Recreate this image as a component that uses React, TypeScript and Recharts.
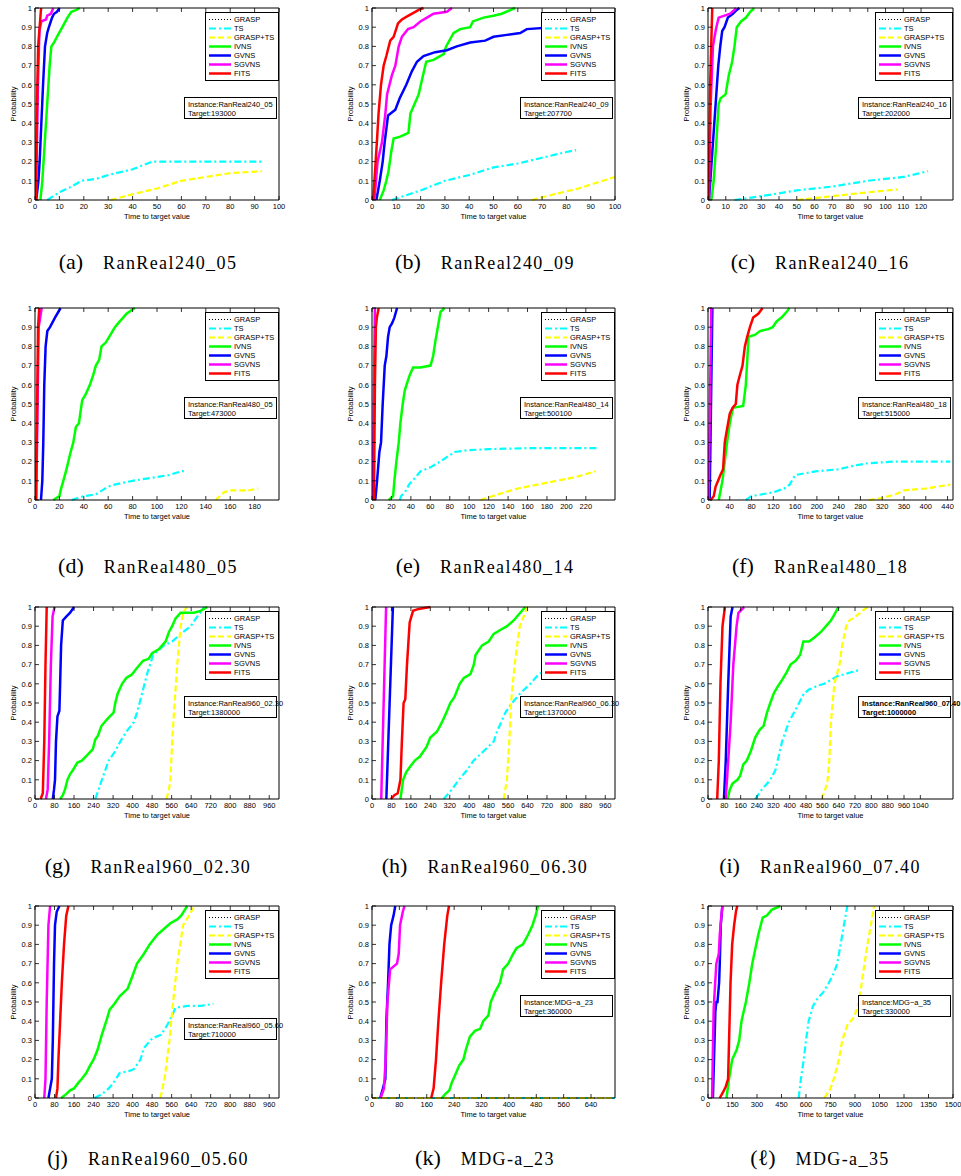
import React from "react";
import { LineChart, Line, XAxis, YAxis } from "recharts";

type Pt = [number, number];

// ---- tick labels ----
const P_TICKS = [0, 0.1, 0.2, 0.3, 0.4, 0.5, 0.6, 0.7, 0.8, 0.9, 1];
const X_100 = [0, 10, 20, 30, 40, 50, 60, 70, 80, 90, 100];
const X_120 = [0, 10, 20, 30, 40, 50, 60, 70, 80, 90, 100, 110, 120];
const X_180 = [0, 20, 40, 60, 80, 100, 120, 140, 160, 180];
const X_220 = [0, 20, 40, 60, 80, 100, 120, 140, 160, 180, 200, 220];
const X_440 = [0, 40, 80, 120, 160, 200, 240, 280, 320, 360, 400, 440];
const X_960 = [0, 80, 160, 240, 320, 400, 480, 560, 640, 720, 800, 880, 960];
const X_1040 = [0, 80, 160, 240, 320, 400, 480, 560, 640, 720, 800, 880, 960, 1040];
const X_640 = [0, 80, 160, 240, 320, 400, 480, 560, 640];
const X_1500 = [0, 150, 300, 450, 600, 750, 900, 1050, 1200, 1350, 1500];

// ---- (a) RanReal240_05 ----
const a_TS: Pt[] = [[5, 0], [10, 0.04], [15, 0.07], [19, 0.1], [25, 0.11], [30, 0.13], [40, 0.16], [48, 0.2], [93, 0.2]];
const a_GTS: Pt[] = [[31, 0], [40, 0.03], [50, 0.06], [60, 0.1], [70, 0.12], [80, 0.14], [93, 0.15]];
const a_IVNS: Pt[] = [[2.2, 0], [3, 0.1], [4, 0.3], [5, 0.5], [6, 0.7], [6.7, 0.8], [7.8, 0.82], [9, 0.85], [11.2, 0.9], [13.3, 0.95], [14.9, 0.98], [17, 0.99], [18.3, 1]];
const a_GVNS: Pt[] = [[0.5, 0], [1.4, 0.1], [1.9, 0.2], [2.6, 0.4], [3.3, 0.6], [4.1, 0.8], [5, 0.87], [5.7, 0.9], [7, 0.95], [7.8, 0.97], [9, 0.98], [10.1, 1]];
const a_SGVNS: Pt[] = [[0.4, 0], [1.2, 0.6], [1.8, 0.88], [2.6, 0.93], [4.5, 0.94], [5, 0.96], [6.5, 0.97], [7.5, 1]];
const a_FITS: Pt[] = [[0.3, 0], [0.8, 0.5], [1.3, 0.8], [1.9, 0.9], [2.5, 1]];

// ---- (b) RanReal240_09 ----
const b_TS: Pt[] = [[8.2, 0], [20, 0.05], [30, 0.1], [40, 0.13], [50, 0.17], [60, 0.19], [70, 0.22], [80, 0.25], [84, 0.26]];
const b_GTS: Pt[] = [[65.8, 0], [75, 0.03], [85, 0.06], [95, 0.1], [100, 0.12]];
const b_IVNS: Pt[] = [[3.2, 0], [4.8, 0.05], [5.9, 0.1], [6.8, 0.15], [7.9, 0.25], [8.9, 0.32], [11.6, 0.33], [15, 0.35], [15.8, 0.45], [17.5, 0.5], [19.2, 0.55], [21, 0.65], [22.3, 0.72], [25.3, 0.73], [29.5, 0.76], [30.5, 0.8], [33.6, 0.87], [36.3, 0.89], [40.4, 0.9], [41.5, 0.93], [45.9, 0.95], [50, 0.96], [53.4, 0.97], [58.9, 1]];
const b_GVNS: Pt[] = [[1.8, 0], [3.2, 0.1], [4.4, 0.2], [5.2, 0.3], [6.6, 0.44], [9.6, 0.47], [11.4, 0.53], [14.1, 0.6], [16.4, 0.67], [18.5, 0.72], [21.2, 0.75], [26, 0.77], [30.8, 0.78], [34.9, 0.8], [40.4, 0.82], [46.6, 0.83], [50, 0.85], [55.5, 0.86], [61, 0.87], [63.7, 0.89], [74.7, 0.9], [84, 0.91]];
const b_SGVNS: Pt[] = [[1, 0], [2.3, 0.2], [4.1, 0.3], [5.5, 0.45], [6.2, 0.55], [8.2, 0.65], [9.6, 0.7], [11, 0.8], [12.3, 0.85], [14.8, 0.89], [17.1, 0.9], [19.9, 0.93], [22.6, 0.95], [25.3, 0.97], [30.8, 0.98], [32.9, 1]];
const b_FITS: Pt[] = [[0.5, 0], [2, 0.3], [2.7, 0.45], [3.7, 0.6], [4.8, 0.7], [5.9, 0.75], [7.5, 0.83], [8.9, 0.85], [10.7, 0.92], [12.3, 0.94], [15, 0.96], [17.8, 0.98], [19.2, 0.99], [21.2, 1]];

// ---- (c) RanReal240_16 ----
const c_TS: Pt[] = [[14.9, 0], [30, 0.02], [50, 0.05], [70, 0.07], [90, 0.1], [110, 0.12], [124, 0.15]];
const c_GTS: Pt[] = [[50.2, 0], [70, 0.02], [90, 0.04], [107, 0.055]];
const c_IVNS: Pt[] = [[1.9, 0], [3.2, 0.1], [4.7, 0.3], [6, 0.5], [7.1, 0.53], [9.9, 0.55], [11.7, 0.65], [13.6, 0.72], [14.9, 0.8], [16.2, 0.9], [18.6, 0.93], [21.4, 0.95], [23.8, 0.98], [26, 1]];
const c_GVNS: Pt[] = [[0.5, 0], [1.3, 0.1], [2.8, 0.3], [4.3, 0.5], [5.8, 0.7], [6.9, 0.8], [8, 0.88], [9.3, 0.9], [11.2, 0.95], [14, 0.97], [16.2, 0.99], [17.7, 1]];
const c_SGVNS: Pt[] = [[0.5, 0], [1.5, 0.5], [2.8, 0.8], [3.7, 0.85], [4.7, 0.9], [6, 0.95], [9.3, 0.96], [12.5, 0.97], [14.9, 0.99], [15.8, 1]];
const c_FITS: Pt[] = [[0.3, 0], [1.2, 0.6], [2.4, 1]];

// ---- (d) RanReal480_05 ----
const d_TS: Pt[] = [[30, 0], [40, 0.02], [50, 0.03], [55, 0.05], [60, 0.07], [65, 0.08], [80, 0.1], [100, 0.12], [110, 0.13], [120, 0.15], [124, 0.15]];
const d_GTS: Pt[] = [[148, 0], [155, 0.04], [160, 0.05], [175, 0.05], [183, 0.06]];
const d_IVNS: Pt[] = [[15, 0], [20, 0.02], [21, 0.05], [23.2, 0.1], [25.4, 0.15], [27.3, 0.2], [29.2, 0.25], [31.4, 0.3], [33.5, 0.38], [36, 0.4], [37.1, 0.45], [38.7, 0.52], [41.5, 0.55], [45, 0.6], [47.7, 0.65], [49.9, 0.7], [52.6, 0.73], [54.5, 0.8], [58, 0.82], [60.8, 0.85], [65.5, 0.9], [69.5, 0.93], [72.3, 0.95], [75, 0.97], [81.8, 1]];
const d_GVNS: Pt[] = [[4.9, 0], [6, 0.1], [6.8, 0.3], [7.6, 0.6], [8.7, 0.8], [10.1, 0.88], [12.3, 0.9], [16.4, 0.95], [21, 1]];
const d_SGVNS: Pt[] = [[1, 0], [3, 0.9], [5.5, 1]];
const d_FITS: Pt[] = [[0.8, 0], [2.5, 0.9], [3.5, 1]];

// ---- (e) RanReal480_14 ----
const e_TS: Pt[] = [[28.5, 0], [30, 0.02], [35, 0.05], [38, 0.08], [45, 0.12], [50, 0.15], [60, 0.17], [70, 0.2], [85, 0.25], [100, 0.26], [120, 0.265], [160, 0.27], [232, 0.27]];
const e_GTS: Pt[] = [[111.7, 0], [130, 0.03], [150, 0.06], [170, 0.08], [190, 0.1], [210, 0.12], [230, 0.15]];
const e_IVNS: Pt[] = [[17.2, 0], [21.7, 0.02], [23, 0.1], [25.1, 0.2], [27.5, 0.3], [29.2, 0.4], [31.6, 0.5], [33.7, 0.57], [36.8, 0.62], [38.8, 0.65], [42.3, 0.69], [49.8, 0.69], [60.2, 0.7], [62.9, 0.75], [65.3, 0.83], [67.7, 0.9], [70.5, 0.98], [74.6, 1]];
const e_GVNS: Pt[] = [[3.4, 0], [5.2, 0.1], [7.6, 0.25], [9.3, 0.3], [11, 0.5], [13.1, 0.7], [14.8, 0.75], [16.5, 0.85], [18.2, 0.9], [20.6, 0.92], [23, 0.95], [25.8, 1]];
const e_SGVNS: Pt[] = [[0.8, 0], [2, 0.6], [3, 1]];
const e_FITS: Pt[] = [[2, 0], [3, 0.6], [4, 0.9], [5, 0.95], [6.9, 1]];

// ---- (f) RanReal480_18 ----
const f_TS: Pt[] = [[69.5, 0], [80, 0.02], [100, 0.03], [120, 0.04], [140, 0.06], [150, 0.08], [160, 0.13], [180, 0.14], [200, 0.15], [240, 0.16], [270, 0.18], [290, 0.19], [340, 0.2], [445, 0.2]];
const f_GTS: Pt[] = [[295, 0], [320, 0.01], [345, 0.03], [360, 0.05], [400, 0.06], [445, 0.08]];
const f_IVNS: Pt[] = [[19.7, 0], [26.5, 0.1], [30.8, 0.2], [35, 0.3], [40, 0.4], [46, 0.48], [64.6, 0.49], [69.5, 0.6], [74.5, 0.85], [86, 0.86], [95.4, 0.88], [110.8, 0.89], [118.8, 0.9], [126, 0.93], [135, 0.95], [144.6, 0.98], [149.5, 1]];
const f_GVNS: Pt[] = [[3, 0], [8, 1]];
const f_SGVNS: Pt[] = [[1, 0], [6, 1]];
const f_FITS: Pt[] = [[4.9, 0], [10.5, 0.02], [14, 0.07], [18.5, 0.1], [22.8, 0.13], [27.7, 0.16], [30.8, 0.3], [35, 0.37], [40, 0.45], [45, 0.48], [51, 0.5], [54, 0.6], [58.5, 0.65], [63.4, 0.7], [67.7, 0.8], [72, 0.85], [77, 0.9], [83, 0.95], [92.3, 0.97], [100.3, 1]];

// ---- (g) RanReal960_02.30 ----
const g_TS: Pt[] = [[247, 0], [261, 0.05], [274, 0.1], [302, 0.2], [329, 0.25], [350, 0.3], [374, 0.35], [405, 0.4], [418, 0.45], [439, 0.55], [459, 0.65], [484, 0.75], [528, 0.8], [562, 0.82], [597, 0.86], [638, 0.9], [665, 0.95], [693, 1]];
const g_GTS: Pt[] = [[539, 0], [549, 0.05], [555, 0.1], [562, 0.3], [572, 0.5], [583, 0.7], [590, 0.8], [597, 0.9], [608, 0.97], [621, 1]];
const g_IVNS: Pt[] = [[103, 0], [114, 0.02], [123, 0.05], [133, 0.1], [144, 0.13], [155, 0.15], [174, 0.19], [192, 0.2], [215, 0.23], [237, 0.26], [247, 0.31], [258, 0.33], [272, 0.38], [285, 0.4], [299, 0.42], [322, 0.45], [329, 0.5], [339, 0.55], [357, 0.6], [374, 0.63], [398, 0.65], [416, 0.68], [443, 0.72], [466, 0.73], [480, 0.76], [507, 0.78], [535, 0.82], [549, 0.87], [562, 0.9], [576, 0.94], [597, 0.97], [651, 0.97], [679, 0.98], [706, 1]];
const g_GVNS: Pt[] = [[73, 0], [78, 0.05], [82, 0.1], [86, 0.3], [92, 0.43], [100, 0.46], [103, 0.6], [107, 0.8], [114, 0.93], [128, 0.95], [144, 0.97], [160, 1]];
const g_SGVNS: Pt[] = [[45, 0], [52, 0.05], [58, 0.3], [65, 0.7], [72, 0.95], [80, 1]];
const g_FITS: Pt[] = [[23, 0], [32, 0.03], [38, 0.3], [43, 0.7], [48, 1]];

// ---- (h) RanReal960_06.30 ----
const h_TS: Pt[] = [[295, 0], [329, 0.05], [357, 0.1], [391, 0.15], [418, 0.2], [460, 0.25], [501, 0.3], [514, 0.35], [549, 0.45], [576, 0.5], [610, 0.55], [651, 0.6], [686, 0.65], [700, 0.66]];
const h_GTS: Pt[] = [[542, 0], [555, 0.1], [565, 0.3], [572, 0.5], [587, 0.7], [608, 0.9], [640, 1]];
const h_IVNS: Pt[] = [[117, 0], [128, 0.1], [141, 0.14], [158, 0.17], [176, 0.2], [196, 0.22], [224, 0.27], [240, 0.32], [267, 0.35], [288, 0.4], [306, 0.45], [322, 0.5], [339, 0.53], [361, 0.6], [378, 0.63], [405, 0.65], [419, 0.7], [426, 0.75], [453, 0.8], [480, 0.82], [501, 0.86], [528, 0.88], [556, 0.9], [583, 0.93], [610, 0.97], [631, 1]];
const h_GVNS: Pt[] = [[59, 0], [86, 1]];
const h_SGVNS: Pt[] = [[38, 0], [58, 1]];
const h_FITS: Pt[] = [[78, 0], [92, 0.02], [106, 0.03], [117, 0.1], [123, 0.3], [130, 0.5], [137, 0.52], [144, 0.7], [155, 0.92], [169, 0.98], [192, 0.99], [240, 1]];

// ---- (i) RanReal960_07.40 ----
const i_TS: Pt[] = [[231, 0], [264, 0.05], [305, 0.1], [330, 0.15], [341, 0.2], [363, 0.3], [396, 0.4], [421, 0.45], [446, 0.5], [470, 0.55], [495, 0.57], [536, 0.59], [569, 0.6], [602, 0.62], [635, 0.64], [668, 0.65], [701, 0.66], [735, 0.67]];
const i_GTS: Pt[] = [[558, 0], [574, 0.05], [586, 0.1], [594, 0.2], [602, 0.4], [619, 0.6], [644, 0.7], [657, 0.8], [677, 0.9], [693, 0.93], [735, 0.96], [768, 0.99], [787, 1]];
const i_IVNS: Pt[] = [[96, 0], [107, 0.05], [120, 0.08], [144, 0.1], [157, 0.12], [173, 0.18], [190, 0.2], [210, 0.25], [231, 0.32], [253, 0.36], [272, 0.38], [289, 0.45], [305, 0.5], [322, 0.55], [338, 0.58], [363, 0.62], [385, 0.66], [404, 0.7], [429, 0.72], [451, 0.75], [467, 0.82], [495, 0.82], [520, 0.84], [553, 0.87], [578, 0.9], [602, 0.93], [619, 0.96], [639, 1]];
const i_GVNS: Pt[] = [[78, 0], [87, 0.2], [99, 0.6], [111, 0.95], [120, 1]];
const i_SGVNS: Pt[] = [[87, 0], [99, 0.2], [111, 0.4], [124, 0.7], [140, 0.9], [149, 0.97], [177, 1]];
const i_FITS: Pt[] = [[45, 0], [53, 0.2], [61, 0.6], [71, 0.9], [83, 1]];

// ---- (j) RanReal960_05.60 ----
const j_TS: Pt[] = [[244, 0], [274, 0.02], [302, 0.05], [322, 0.08], [347, 0.13], [384, 0.14], [405, 0.15], [432, 0.2], [446, 0.26], [480, 0.31], [517, 0.33], [542, 0.38], [562, 0.43], [576, 0.47], [624, 0.48], [679, 0.48], [731, 0.49]];
const j_GTS: Pt[] = [[514, 0], [531, 0.1], [551, 0.3], [566, 0.5], [583, 0.7], [607, 0.9], [631, 0.95], [654, 1]];
const j_IVNS: Pt[] = [[107, 0], [128, 0.02], [144, 0.04], [160, 0.05], [178, 0.08], [192, 0.1], [210, 0.13], [226, 0.17], [240, 0.2], [256, 0.25], [274, 0.33], [292, 0.4], [306, 0.46], [325, 0.49], [347, 0.53], [380, 0.57], [398, 0.63], [418, 0.7], [446, 0.75], [470, 0.8], [501, 0.85], [528, 0.88], [555, 0.91], [583, 0.93], [599, 0.95], [624, 1]];
const j_GVNS: Pt[] = [[55, 0], [62, 0.05], [69, 0.1], [73, 0.3], [78, 0.7], [82, 0.9], [89, 0.97], [100, 1]];
const j_SGVNS: Pt[] = [[38, 0], [43, 0.1], [48, 0.5], [55, 0.9], [62, 1]];
const j_FITS: Pt[] = [[86, 0], [92, 0.05], [96, 0.2], [103, 0.4], [110, 0.6], [119, 0.8], [128, 0.95], [137, 1]];

// ---- (k) MDG-a_23 ----
const k_GRASP: Pt[] = [[0, 0], [710, 0]];
const k_TS: Pt[] = [[0, 0], [710, 0]];
const k_GTS: Pt[] = [[0, 0], [710, 0]];
const k_IVNS: Pt[] = [[204, 0], [214, 0.02], [226, 0.04], [233, 0.08], [243, 0.12], [255, 0.17], [267, 0.2], [274, 0.25], [286, 0.32], [301, 0.35], [316, 0.36], [325, 0.4], [340, 0.43], [347, 0.5], [359, 0.55], [374, 0.6], [383, 0.67], [398, 0.7], [412, 0.75], [422, 0.78], [441, 0.8], [456, 0.85], [469, 0.9], [478, 0.95], [485, 1]];
const k_GVNS: Pt[] = [[24, 0], [32, 0.05], [39, 0.1], [42, 0.4], [47, 0.6], [51, 0.8], [56, 0.9], [63, 0.95], [68, 1]];
const k_SGVNS: Pt[] = [[25, 0], [35, 0.05], [40, 0.2], [45, 0.5], [53, 0.67], [73, 0.7], [78, 0.75], [82, 0.9], [90, 0.97], [95, 1]];
const k_FITS: Pt[] = [[173, 0], [180, 0.05], [187, 0.2], [194, 0.4], [202, 0.6], [211, 0.8], [220, 0.95], [225, 1]];

// ---- (l) MDG-a_35 ----
const l_TS: Pt[] = [[555, 0], [569, 0.1], [586, 0.2], [600, 0.3], [616, 0.4], [643, 0.48], [672, 0.52], [705, 0.55], [740, 0.6], [770, 0.65], [791, 0.7], [812, 0.8], [832, 0.9], [853, 1]];
const l_GTS: Pt[] = [[713, 0], [750, 0.05], [770, 0.1], [801, 0.2], [822, 0.3], [853, 0.38], [894, 0.42], [925, 0.5], [941, 0.6], [976, 0.8], [997, 0.9], [1017, 1]];
const l_IVNS: Pt[] = [[113, 0], [129, 0.1], [148, 0.2], [175, 0.25], [191, 0.3], [205, 0.4], [232, 0.5], [253, 0.6], [271, 0.7], [288, 0.77], [308, 0.85], [335, 0.94], [360, 0.95], [390, 0.98], [442, 1]];
const l_GVNS: Pt[] = [[30, 0], [45, 0.45], [51, 0.5], [58, 0.5], [68, 0.6], [72, 0.7], [78, 0.9], [88, 1]];
const l_SGVNS: Pt[] = [[25, 0], [31, 0.3], [35, 0.47], [51, 0.7], [66, 0.75], [72, 0.85], [82, 0.95], [88, 1]];
const l_FITS: Pt[] = [[72, 0], [92, 0.03], [109, 0.06], [123, 0.1], [129, 0.3], [138, 0.6], [148, 0.8], [160, 0.9], [171, 0.97], [179, 1]];

const SERIES = ["GRASP", "TS", "GRASP+TS", "IVNS", "GVNS", "SGVNS", "FITS"];

const STYLE: Record<string, { stroke: string; width: number; dash?: string }> = {
    GRASP: { stroke: "#000000", width: 1, dash: "1 2" },
    TS: { stroke: "#00ffff", width: 2.2, dash: "7 3 2 3" },
    "GRASP+TS": { stroke: "#ffff00", width: 2.2, dash: "6 3" },
    IVNS: { stroke: "#00ff00", width: 2.5 },
    GVNS: { stroke: "#0000ff", width: 2.5 },
    SGVNS: { stroke: "#ff00ff", width: 2.5 },
    FITS: { stroke: "#ff0000", width: 2.5 },
};

const PANELS = [
    { tag: "a", name: "RanReal240_05", target: "193000", xMax: 100, xTicks: X_100, s: { TS: a_TS, "GRASP+TS": a_GTS, IVNS: a_IVNS, GVNS: a_GVNS, SGVNS: a_SGVNS, FITS: a_FITS } },
    { tag: "b", name: "RanReal240_09", target: "207700", xMax: 100, xTicks: X_100, s: { TS: b_TS, "GRASP+TS": b_GTS, IVNS: b_IVNS, GVNS: b_GVNS, SGVNS: b_SGVNS, FITS: b_FITS } },
    { tag: "c", name: "RanReal240_16", target: "202000", xMax: 138, xTicks: X_120, s: { TS: c_TS, "GRASP+TS": c_GTS, IVNS: c_IVNS, GVNS: c_GVNS, SGVNS: c_SGVNS, FITS: c_FITS } },
    { tag: "d", name: "RanReal480_05", target: "473000", xMax: 200, xTicks: X_180, s: { TS: d_TS, "GRASP+TS": d_GTS, IVNS: d_IVNS, GVNS: d_GVNS, SGVNS: d_SGVNS, FITS: d_FITS } },
    { tag: "e", name: "RanReal480_14", target: "500100", xMax: 250, xTicks: X_220, s: { TS: e_TS, "GRASP+TS": e_GTS, IVNS: e_IVNS, GVNS: e_GVNS, SGVNS: e_SGVNS, FITS: e_FITS } },
    { tag: "f", name: "RanReal480_18", target: "515000", xMax: 450, xTicks: X_440, s: { TS: f_TS, "GRASP+TS": f_GTS, IVNS: f_IVNS, GVNS: f_GVNS, SGVNS: f_SGVNS, FITS: f_FITS } },
    { tag: "g", name: "RanReal960_02.30", target: "1380000", xMax: 1000, xTicks: X_960, s: { TS: g_TS, "GRASP+TS": g_GTS, IVNS: g_IVNS, GVNS: g_GVNS, SGVNS: g_SGVNS, FITS: g_FITS } },
    { tag: "h", name: "RanReal960_06.30", target: "1370000", xMax: 1000, xTicks: X_960, s: { TS: h_TS, "GRASP+TS": h_GTS, IVNS: h_IVNS, GVNS: h_GVNS, SGVNS: h_SGVNS, FITS: h_FITS } },
    { tag: "i", name: "RanReal960_07.40", target: "1000000", xMax: 1200, xTicks: X_1040, bold: true, s: { TS: i_TS, "GRASP+TS": i_GTS, IVNS: i_IVNS, GVNS: i_GVNS, SGVNS: i_SGVNS, FITS: i_FITS } },
    { tag: "j", name: "RanReal960_05.60", target: "710000", xMax: 1000, xTicks: X_960, boxLow: true, s: { TS: j_TS, "GRASP+TS": j_GTS, IVNS: j_IVNS, GVNS: j_GVNS, SGVNS: j_SGVNS, FITS: j_FITS } },
    { tag: "k", name: "MDG-a_23", boxName: "MDG\u2212a_23", target: "360000", xMax: 710, xTicks: X_640, s: { GRASP: k_GRASP, TS: k_TS, "GRASP+TS": k_GTS, IVNS: k_IVNS, GVNS: k_GVNS, SGVNS: k_SGVNS, FITS: k_FITS } },
    { tag: "\u2113", name: "MDG-a_35", boxName: "MDG\u2212a_35", target: "330000", xMax: 1500, xTicks: X_1500, s: { TS: l_TS, "GRASP+TS": l_GTS, IVNS: l_IVNS, GVNS: l_GVNS, SGVNS: l_SGVNS, FITS: l_FITS } },
];

// layout
const PLOT_X = [35, 372, 708];
const PLOT_W = [244, 243, 245];
const PLOT_Y = [8, 308, 607, 906];
const PLOT_H = 192;
const CAP_X = [148, 485, 820];
const CAP_Y = [262, 566, 866, 1158];
const AX_L = 32;
const AX_R = 12;
const AX_T = 6;
const AX_B = 24;

const FONT = '"Liberation Sans", Arial, Helvetica, sans-serif';
const FS = 7.5;

const LeftTick = (props: any) => {
    const { x, y, payload } = props;
    return (
        <g>
            <line x1={x} y1={y} x2={x + 4} y2={y} stroke="#000" strokeWidth={0.8} />
            <text x={x - 3} y={y + 2.7} textAnchor="end" fontSize={FS} fontFamily={FONT} fill="#000">
                {String(payload.value)}
            </text>
        </g>
    );
};
const RightTick = (props: any) => {
    const { x, y } = props;
    return <line x1={x} y1={y} x2={x - 4} y2={y} stroke="#000" strokeWidth={0.8} />;
};
const BottomTick = (props: any) => {
    const { x, y, payload } = props;
    return (
        <g>
            <line x1={x} y1={y} x2={x} y2={y - 4} stroke="#000" strokeWidth={0.8} />
            <text x={x} y={y + 8.5} textAnchor="middle" fontSize={FS} fontFamily={FONT} fill="#000">
                {String(payload.value)}
            </text>
        </g>
    );
};
const TopTick = (props: any) => {
    const { x, y } = props;
    return <line x1={x} y1={y} x2={x} y2={y + 4} stroke="#000" strokeWidth={0.8} />;
};

const yLabel = (props: any) => {
    const vb = props.viewBox || { x: 0, y: 0, width: AX_L, height: PLOT_H };
    const cx = vb.x + 13;
    const cy = vb.y + vb.height / 2;
    return (
        <text x={cx} y={cy} transform={`rotate(-90 ${cx} ${cy})`} textAnchor="middle" fontSize={FS} fontFamily={FONT} fill="#000">
            Probability
        </text>
    );
};
const xLabel = (props: any) => {
    const vb = props.viewBox || { x: AX_L, y: PLOT_H, width: 244, height: AX_B };
    return (
        <text x={vb.x + vb.width / 2} y={vb.y + 19} textAnchor="middle" fontSize={FS} fontFamily={FONT} fill="#000">
            Time to target value
        </text>
    );
};

const LegendBox = ({ left, top, width }: { left: number; top: number; width: number }) => (
    <div
        style={{
            position: "absolute",
            left,
            top,
            width,
            border: "1px solid #000",
            background: "#fff",
            padding: "2px 0",
            fontFamily: FONT,
            fontSize: FS,
            lineHeight: "9px",
            color: "#000",
        }}
    >
        {SERIES.map((s) => (
            <div key={s} style={{ display: "flex", alignItems: "center", height: 9 }}>
                <svg width={28} height={9} style={{ flex: "none" }}>
                    <line
                        x1={3}
                        x2={25}
                        y1={4.5}
                        y2={4.5}
                        stroke={STYLE[s].stroke}
                        strokeWidth={STYLE[s].width}
                        strokeDasharray={STYLE[s].dash}
                    />
                </svg>
                <span style={{ whiteSpace: "nowrap" }}>{s}</span>
            </div>
        ))}
    </div>
);

const Panel = ({ p, idx }: { p: any; idx: number }) => {
    const row = Math.floor(idx / 3);
    const col = idx % 3;
    const px = PLOT_X[col];
    const pw = PLOT_W[col];
    const py = PLOT_Y[row];
    const right = px + pw;
    const series = SERIES.filter((s) => p.s[s]);
    return (
        <>
            <div style={{ position: "absolute", left: px - AX_L, top: py - AX_T }}>
                <LineChart width={AX_L + pw + AX_R} height={AX_T + PLOT_H + AX_B} margin={{ top: 0, right: 0, bottom: 0, left: 0 }}>
                    <XAxis
                        xAxisId="b"
                        type="number"
                        dataKey="t"
                        domain={[0, p.xMax]}
                        ticks={p.xTicks}
                        interval={0}
                        height={AX_B}
                        tickSize={0}
                        tickMargin={0}
                        tickLine={false}
                        tick={<BottomTick />}
                        axisLine={{ stroke: "#000" }}
                        allowDataOverflow
                        label={xLabel}
                    />
                    <XAxis
                        xAxisId="t"
                        orientation="top"
                        type="number"
                        dataKey="t"
                        domain={[0, p.xMax]}
                        ticks={p.xTicks}
                        interval={0}
                        height={AX_T}
                        tickSize={0}
                        tickMargin={0}
                        tickLine={false}
                        tick={<TopTick />}
                        axisLine={{ stroke: "#000" }}
                        allowDataOverflow
                    />
                    <YAxis
                        yAxisId="l"
                        type="number"
                        domain={[0, 1]}
                        ticks={P_TICKS}
                        interval={0}
                        width={AX_L}
                        tickSize={0}
                        tickMargin={0}
                        tickLine={false}
                        tick={<LeftTick />}
                        axisLine={{ stroke: "#000" }}
                        label={yLabel}
                    />
                    <YAxis
                        yAxisId="r"
                        orientation="right"
                        type="number"
                        domain={[0, 1]}
                        ticks={P_TICKS}
                        interval={0}
                        width={AX_R}
                        tickSize={0}
                        tickMargin={0}
                        tickLine={false}
                        tick={<RightTick />}
                        axisLine={{ stroke: "#000" }}
                    />
                    {series.map((s) => (
                        <Line
                            key={s}
                            xAxisId="b"
                            yAxisId="l"
                            data={p.s[s].map(([t, v]: Pt) => ({ t, p: v }))}
                            dataKey="p"
                            type="linear"
                            stroke={STYLE[s].stroke}
                            strokeWidth={STYLE[s].width}
                            strokeDasharray={STYLE[s].dash}
                            dot={false}
                            activeDot={false}
                            isAnimationActive={false}
                        />
                    ))}
                </LineChart>
            </div>
            <LegendBox left={right - 2 - (col === 2 ? 76 : 72)} top={py + 4} width={col === 2 ? 76 : 72} />
            <div
                style={{
                    position: "absolute",
                    left: right - 95,
                    top: py + (p.boxLow ? 112 : 89),
                    width: 93,
                    height: 22,
                    border: "1px solid #000",
                    background: "#fff",
                    padding: "2px 0 0 3px",
                    boxSizing: "border-box",
                    fontFamily: FONT,
                    fontSize: FS,
                    lineHeight: "9px",
                    fontWeight: p.bold ? "bold" : "normal",
                    whiteSpace: "nowrap",
                    color: "#000",
                }}
            >
                <div>Instance:{p.boxName || p.name}</div>
                <div>Target:{p.target}</div>
            </div>
            <div
                style={{
                    position: "absolute",
                    left: CAP_X[col],
                    top: CAP_Y[row] - 13,
                    transform: "translateX(-50%)",
                    whiteSpace: "nowrap",
                    fontFamily: '"Liberation Serif", "DejaVu Serif", serif',
                    color: "#000",
                }}
            >
                <span style={{ fontSize: 22 }}>({p.tag})</span>
                <span style={{ fontSize: 18, marginLeft: 20, letterSpacing: 1.4 }}>{p.name}</span>
            </div>
        </>
    );
};

export default function App() {
    return (
        <div style={{ position: "absolute", left: 0, top: 0, width: 961, height: 1176, background: "#fff", overflow: "hidden" }}>
            {PANELS.map((p, i) => (
                <Panel key={p.tag} p={p} idx={i} />
            ))}
        </div>
    );
}
